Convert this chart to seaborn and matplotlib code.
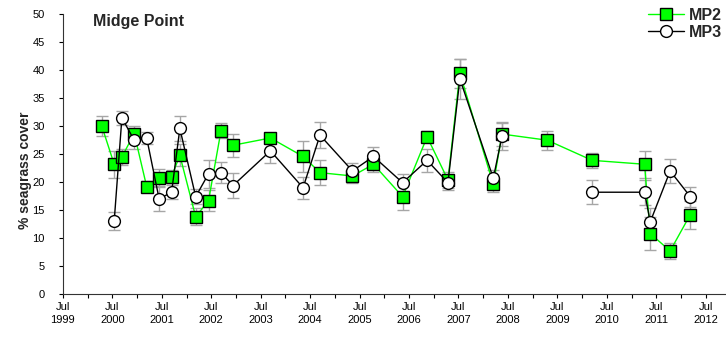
import pandas as pd
import numpy as np
import matplotlib
matplotlib.use("Agg")
import matplotlib.pyplot as plt
import matplotlib.dates as mdates
from matplotlib.lines import Line2D
import seaborn as sns

# sampling dates (shared by both sites)
dates = ["2000-04-15", "2000-07-15", "2000-09-10", "2000-12-10", "2001-03-12",
         "2001-06-12", "2001-09-12", "2001-11-12", "2002-03-09", "2002-06-12",
         "2002-09-12", "2002-12-10", "2003-09-12", "2004-05-10", "2004-09-12",
         "2005-05-10", "2005-10-12", "2006-05-15", "2006-11-12", "2007-04-15",
         "2007-07-12", "2008-03-15", "2008-05-18", "2009-04-18", "2010-03-15",
         "2011-04-06", "2011-05-18", "2011-10-12", "2012-03-09"]

mp2 = [30.0, 23.2, 24.5, 28.7, 19.2, 20.8, 21.0, 24.8, 13.8, 16.7,
       29.2, 26.6, 27.9, 24.6, 21.7, 21.1, 23.2, 17.4, 28.1, 20.4,
       39.5, 19.6, 28.6, 27.5, 23.9, 23.2, 10.8, 7.7, 14.2]
mp2_se = [1.8, 2.4, 1.5, 1.4, 1.0, 1.5, 1.2, 2.0, 1.5, 1.9,
          1.3, 2.1, 0.8, 2.7, 2.2, 1.2, 1.3, 2.4, 1.0, 1.5,
          2.6, 1.3, 2.1, 1.7, 1.3, 2.4, 2.9, 1.4, 2.5]

mp3 = [np.nan, 13.0, 31.5, 27.5, 27.9, 17.0, 18.2, 29.6, 17.4, 21.5,
       21.7, 19.4, 25.6, 19.0, 28.4, 22.0, 24.6, 19.9, 23.9, 19.9,
       38.5, 20.7, 28.2, np.nan, 18.2, 18.2, 12.9, 22.0, 17.4]
mp3_se = [np.nan, 1.6, 1.3, 1.5, 1.0, 2.1, 1.3, 2.2, 1.3, 2.5,
          1.9, 2.2, 2.1, 2.0, 2.3, 1.5, 1.6, 1.6, 2.0, 1.3,
          3.6, 1.5, 2.4, np.nan, 2.1, 2.2, 2.5, 2.1, 1.8]

sns.set_style("ticks")
plt.rcParams["font.family"] = ["Liberation Sans", "DejaVu Sans"]

df = pd.DataFrame({"date": pd.to_datetime(dates), "MP2": mp2, "MP2_se": mp2_se,
                   "MP3": mp3, "MP3_se": mp3_se})
# segment id so the MP3 line breaks at missing surveys
df["seg"] = df["MP3"].isna().cumsum()

fig, ax = plt.subplots(figsize=(7.26, 3.43), dpi=100)
fig.subplots_adjust(left=0.0864, right=0.9986, bottom=0.1429, top=0.958)

grey = "#a6a6a6"
ax.errorbar(df["date"], df["MP2"], yerr=df["MP2_se"], fmt="none", ecolor=grey,
            elinewidth=1, capsize=4.5, capthick=1, zorder=1)
ax.errorbar(df["date"], df["MP3"], yerr=df["MP3_se"], fmt="none", ecolor=grey,
            elinewidth=1, capsize=4.5, capthick=1, zorder=1)

sns.lineplot(data=df, x="date", y="MP2", ax=ax, color="#00ff00", lw=1,
             marker="s", ms=8, mfc="#00ff00", mec="black", mew=1, zorder=2)
sns.lineplot(data=df.dropna(subset=["MP3"]), x="date", y="MP3", units="seg",
             estimator=None, ax=ax, color="black", lw=1, marker="o", ms=8.5,
             mfc="white", mec="black", mew=1, zorder=3)

ax.set_ylim(0, 50)
ax.set_yticks(range(0, 51, 5))
ax.set_xlim(pd.Timestamp("1999-07-01"), pd.Timestamp("2012-11-20"))
ax.xaxis.set_major_locator(mdates.MonthLocator(bymonth=7))
ax.xaxis.set_minor_locator(mdates.MonthLocator(bymonth=1))
ax.xaxis.set_major_formatter(mdates.DateFormatter("%b\n%Y"))
ax.tick_params(axis="both", which="both", direction="out", length=3, width=0.8,
               labelsize=8, colors="black")
ax.tick_params(axis="y", pad=10)
ax.tick_params(axis="x", pad=3)
for lab in ax.get_xticklabels():
    lab.set_linespacing(1.3)

ax.set_xlabel("")
ax.set_ylabel("% seagrass cover", fontsize=10, fontweight="bold")
ax.yaxis.set_label_coords(-0.047, 0.443)
sns.despine(ax=ax)
for s in ["left", "bottom"]:
    ax.spines[s].set_linewidth(0.8)
    ax.spines[s].set_color("#333333")

ax.text(0.046, 1.003, "Midge Point", transform=ax.transAxes, fontsize=11.5,
        fontweight="bold", va="top", ha="left")

handles = [
    Line2D([], [], color="#00ff00", lw=1, marker="s", ms=8, mfc="#00ff00", mec="black"),
    Line2D([], [], color="black", lw=1, marker="o", ms=8.5, mfc="white", mec="black"),
]
fig.legend(handles, ["MP2", "MP3"], loc="upper right", bbox_to_anchor=(1.006, 1.0),
           frameon=False, borderpad=0, handlelength=2.25, handletextpad=0.35,
           labelspacing=0.1, prop={"weight": "bold", "size": 11.5})

fig.savefig("out.png", dpi=100)
